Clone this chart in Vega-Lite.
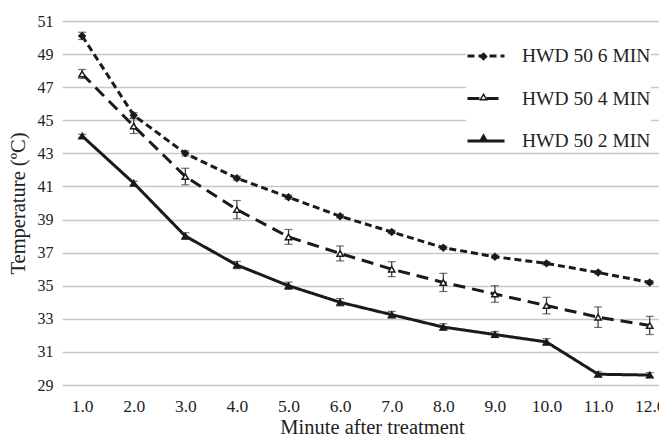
{
  "$schema": "https://vega.github.io/schema/vega-lite/v6.json",
  "width": 597,
  "height": 364,
  "autosize": {"type": "none"},
  "padding": {"left": 62, "top": 21, "right": 0, "bottom": 52},
  "background": "white",
  "config": {
    "view": {"stroke": null},
    "font": "Liberation Serif",
    "axis": {"labelFont": "Liberation Serif", "titleFont": "Liberation Serif", "labelColor": "#222", "titleColor": "#222", "titleFontWeight": "normal", "labelOverlap": false},
    "axisY": {"labelOverlap": false, "tickCount": 30},
    "legend": {"labelFont": "Liberation Serif"}
  },
  "data": {
    "values": [
      {"minute": 1, "series": "HWD 50 6 MIN", "temp": 50.1, "lo": 49.88, "hi": 50.32},
      {"minute": 2, "series": "HWD 50 6 MIN", "temp": 45.3, "lo": 45.15, "hi": 45.45},
      {"minute": 3, "series": "HWD 50 6 MIN", "temp": 43.0, "lo": 42.85, "hi": 43.15},
      {"minute": 4, "series": "HWD 50 6 MIN", "temp": 41.5, "lo": 41.38, "hi": 41.62},
      {"minute": 5, "series": "HWD 50 6 MIN", "temp": 40.35, "lo": 40.23, "hi": 40.47},
      {"minute": 6, "series": "HWD 50 6 MIN", "temp": 39.2, "lo": 39.1, "hi": 39.3},
      {"minute": 7, "series": "HWD 50 6 MIN", "temp": 38.25, "lo": 38.15, "hi": 38.35},
      {"minute": 8, "series": "HWD 50 6 MIN", "temp": 37.3, "lo": 37.2, "hi": 37.4},
      {"minute": 9, "series": "HWD 50 6 MIN", "temp": 36.75, "lo": 36.65, "hi": 36.85},
      {"minute": 10, "series": "HWD 50 6 MIN", "temp": 36.35, "lo": 36.25, "hi": 36.45},
      {"minute": 11, "series": "HWD 50 6 MIN", "temp": 35.8, "lo": 35.7, "hi": 35.9},
      {"minute": 12, "series": "HWD 50 6 MIN", "temp": 35.2, "lo": 35.1, "hi": 35.3},
      {"minute": 1, "series": "HWD 50 4 MIN", "temp": 47.8, "lo": 47.53, "hi": 48.07},
      {"minute": 2, "series": "HWD 50 4 MIN", "temp": 44.65, "lo": 44.2, "hi": 45.1},
      {"minute": 3, "series": "HWD 50 4 MIN", "temp": 41.6, "lo": 41.1, "hi": 42.1},
      {"minute": 4, "series": "HWD 50 4 MIN", "temp": 39.6, "lo": 39.05, "hi": 40.15},
      {"minute": 5, "series": "HWD 50 4 MIN", "temp": 37.95, "lo": 37.5, "hi": 38.4},
      {"minute": 6, "series": "HWD 50 4 MIN", "temp": 36.95, "lo": 36.5, "hi": 37.4},
      {"minute": 7, "series": "HWD 50 4 MIN", "temp": 36.0, "lo": 35.55, "hi": 36.45},
      {"minute": 8, "series": "HWD 50 4 MIN", "temp": 35.2, "lo": 34.65, "hi": 35.75},
      {"minute": 9, "series": "HWD 50 4 MIN", "temp": 34.5, "lo": 34.0, "hi": 35.0},
      {"minute": 10, "series": "HWD 50 4 MIN", "temp": 33.8, "lo": 33.3, "hi": 34.3},
      {"minute": 11, "series": "HWD 50 4 MIN", "temp": 33.1, "lo": 32.48, "hi": 33.72},
      {"minute": 12, "series": "HWD 50 4 MIN", "temp": 32.6, "lo": 32.05, "hi": 33.15},
      {"minute": 1, "series": "HWD 50 2 MIN", "temp": 44.05, "lo": 43.95, "hi": 44.15},
      {"minute": 2, "series": "HWD 50 2 MIN", "temp": 41.2, "lo": 41.08, "hi": 41.32},
      {"minute": 3, "series": "HWD 50 2 MIN", "temp": 38.0, "lo": 37.8, "hi": 38.2},
      {"minute": 4, "series": "HWD 50 2 MIN", "temp": 36.25, "lo": 36.03, "hi": 36.47},
      {"minute": 5, "series": "HWD 50 2 MIN", "temp": 35.0, "lo": 34.78, "hi": 35.22},
      {"minute": 6, "series": "HWD 50 2 MIN", "temp": 34.0, "lo": 33.78, "hi": 34.22},
      {"minute": 7, "series": "HWD 50 2 MIN", "temp": 33.25, "lo": 33.05, "hi": 33.45},
      {"minute": 8, "series": "HWD 50 2 MIN", "temp": 32.5, "lo": 32.3, "hi": 32.7},
      {"minute": 9, "series": "HWD 50 2 MIN", "temp": 32.05, "lo": 31.87, "hi": 32.23},
      {"minute": 10, "series": "HWD 50 2 MIN", "temp": 31.6, "lo": 31.4, "hi": 31.8},
      {"minute": 11, "series": "HWD 50 2 MIN", "temp": 29.65, "lo": 29.5, "hi": 29.8},
      {"minute": 12, "series": "HWD 50 2 MIN", "temp": 29.6, "lo": 29.45, "hi": 29.75}
    ]
  },
  "encoding": {
    "x": {
      "field": "minute",
      "type": "quantitative",
      "scale": {"domain": [0.61, 12.18], "nice": false, "zero": false},
      "axis": {
        "values": [1, 2, 3, 4, 5, 6, 7, 8, 9, 10, 11, 12],
        "tickCount": 30,
        "grid": false, "domain": false, "ticks": false, "labelOverlap": false,
        "labelFontSize": 17.5, "labelPadding": 12,
        "title": "Minute after treatment", "titleFontSize": 20.5, "titlePadding": 3, "titleX": 310
      }
    }
  },
  "layer": [
    {
      "mark": {"type": "line", "strokeWidth": 3, "color": "#1a1a1a", "interpolate": "linear"},
      "encoding": {
        "y": {
          "field": "temp", "type": "quantitative",
          "scale": {"domain": [29, 51], "nice": false, "zero": false},
          "title": "Temperature (ºC)",
          "axis": {
            "values": [29, 31, 33, 35, 37, 39, 41, 43, 45, 47, 49, 51],
            "tickCount": 30,
            "grid": true, "gridColor": "#c8c8c8", "gridWidth": 1.5,
            "domain": false, "ticks": false, "labelOverlap": false,
            "labelFontSize": 16, "labelPadding": 9,
            "titleFontSize": 20.5, "titlePadding": 9
          }
        },
        "strokeDash": {
          "field": "series", "type": "nominal",
          "scale": {"domain": ["HWD 50 6 MIN", "HWD 50 4 MIN", "HWD 50 2 MIN"], "range": [[7, 4], [12, 7], [1, 0]]},
          "legend": {
            "orient": "none", "legendX": 404, "legendY": 15, "title": null,
            "symbolType": "stroke", "symbolSize": 1369, "symbolStrokeWidth": 3, "symbolStrokeColor": "#1a1a1a",
            "labelFontSize": 19.5, "labelColor": "#222", "labelOffset": 16, "rowPadding": 12.5,
            "fillColor": "white", "padding": 0, "labelLimit": 300
          }
        }
      }
    },
    {
      "mark": {"type": "rule", "strokeWidth": 1.2, "color": "#333"},
      "encoding": {
        "y": {"field": "lo", "type": "quantitative", "title": "Temperature (ºC)"},
        "y2": {"field": "hi"}
      }
    },
    {
      "mark": {"type": "tick", "size": 8, "thickness": 1.2, "color": "#333", "orient": "horizontal"},
      "encoding": {
        "y": {"field": "lo", "type": "quantitative", "title": "Temperature (ºC)"}
      }
    },
    {
      "mark": {"type": "tick", "size": 8, "thickness": 1.2, "color": "#333", "orient": "horizontal"},
      "encoding": {
        "y": {"field": "hi", "type": "quantitative", "title": "Temperature (ºC)"}
      }
    },
    {
      "mark": {"type": "point", "filled": true, "stroke": "#1a1a1a", "strokeWidth": 1.5, "size": 40, "opacity": 1},
      "encoding": {
        "y": {"field": "temp", "type": "quantitative", "title": "Temperature (ºC)"},
        "shape": {
          "field": "series", "type": "nominal", "sort": "descending",
          "scale": {"range": ["diamond", "triangle-up", "triangle-up"]},
          "legend": {
            "orient": "none", "legendX": 412, "legendY": 26, "title": null,
            "symbolSize": 40, "labelExpr": "''",
            "labelFontSize": 19, "labelOffset": 0, "rowPadding": 20.5, "padding": 0,
            "encode": {"symbols": {"update": {"stroke": {"value": "#1a1a1a"}, "strokeWidth": {"value": 1.5}}}}
          }
        },
        "fill": {
          "field": "series", "type": "nominal", "sort": "descending",
          "scale": {"range": ["#1a1a1a", "white", "#1a1a1a"]},
          "legend": {
            "orient": "none", "legendX": 412, "legendY": 26, "title": null,
            "symbolSize": 40, "labelExpr": "''",
            "labelFontSize": 19, "labelOffset": 0, "rowPadding": 20.5, "padding": 0,
            "encode": {"symbols": {"update": {"stroke": {"value": "#1a1a1a"}, "strokeWidth": {"value": 1.5}}}}
          }
        }
      }
    }
  ]
}
